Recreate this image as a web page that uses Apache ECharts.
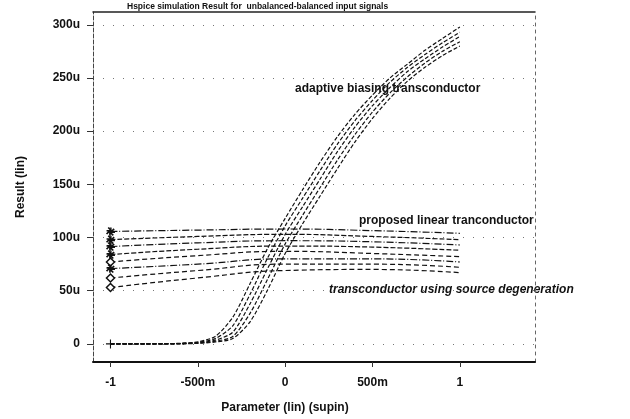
<!DOCTYPE html>
<html>
<head>
<meta charset="utf-8">
<script src="https://cdn.jsdelivr.net/npm/echarts@6/dist/echarts.min.js"></script>
<style>
  html, body { margin: 0; padding: 0; background: #fff; }
  #chart { width: 630px; height: 419px; }
</style>
</head>
<body>
<div id="chart"></div>
<script>
// sweep points of the parameter (supin)
const sweep = [-1, -0.9, -0.8, -0.7, -0.6, -0.5, -0.4, -0.3, -0.2, -0.1, 0,
  0.1, 0.2, 0.3, 0.4, 0.5, 0.6, 0.7, 0.8, 0.9, 1]

// adaptive biasing transconductor, five curves (u)
const adaptive1 = [0, 0, 0.1, 0.2, 0.6, 2, 7, 25, 57, 90, 118, 145, 171, 195, 216, 234, 250, 263, 276, 287, 298]
const adaptive2 = [0, 0, 0, 0.1, 0.4, 1.5, 5, 17, 47, 81, 111, 137, 163, 188, 210, 229, 246, 260, 272, 283, 293]
const adaptive3 = [0, 0, 0, 0.1, 0.3, 1, 3.5, 11, 38, 71, 103, 129, 155, 181, 204, 224, 241, 256, 268, 279, 289]
const adaptive4 = [0, 0, 0, 0, 0.2, 0.7, 2.5, 7, 29, 61, 94, 121, 147, 173, 197, 218, 236, 251, 264, 275, 284]
const adaptive5 = [0, 0, 0, 0, 0.1, 0.5, 1.8, 5, 21, 51, 85, 113, 139, 165, 190, 212, 231, 247, 260, 271, 280]

// proposed / source degeneration curves, sampled at these points
const flatX = [-1, -0.5, 0, 0.5, 1]
const flat1 = [105.7, 107, 108, 106.5, 104]
const flat2 = [98, 101, 103, 101, 98]
const flat3 = [91.5, 95, 97, 96, 93]
const flat4 = [84, 89, 92, 91, 88]
const flat5 = [77, 83, 87, 85, 82]
const flat6 = [70.8, 75, 80, 80, 77]
const flat7 = [62, 69, 75, 75, 72]
const flat8 = [53, 62, 69, 70, 67]

const xTicks = [-1, -0.5, 0, 0.5, 1]
const yTicks = [0, 50, 100, 150, 200, 250, 300]

const asterisk = 'path://M-1,-5h2v3.3l2.3,-2.3 1.4,1.4 -2.3,2.3H5v2H1.4l2.3,2.3 -1.4,1.4 -2.3,-2.3V5h-2V1.4l-2.3,2.3 -1.4,-1.4 2.3,-2.3H-5v-2h3.6l-2.3,-2.3 1.4,-1.4 2.3,2.3z'
const plus = 'path://M-0.6,-5h1.2v4.4H5v1.2H0.6V5h-1.2V0.6H-5v-1.2h4.4z'

const chart = echarts.init(document.getElementById('chart'))

const adaptiveSeries = [adaptive1, adaptive2, adaptive3, adaptive4, adaptive5].map((arr, i) => ({
  type: 'line',
  data: arr.map((v, j) => {
    if (i === 4 && j === 0) {
      return { value: [sweep[j], v], symbol: plus, symbolSize: 9 }
    }
    return [sweep[j], v]
  }),
  symbol: 'none',
  smooth: 0.25,
  lineStyle: { color: '#111', width: 1.2, type: [4, 2] },
  itemStyle: { color: '#111' },
  z: 3
}))

const flatMarks = ['ast', 'ast', 'ast', 'ast', 'dia', 'ast', 'dia', 'dia']
const flatDash = [[7, 2, 1, 2], [5, 2], [7, 2, 1, 2], [5, 2], [5, 3], [7, 2, 1, 2], [5, 3], [5, 3]]

const flatSeries = [flat1, flat2, flat3, flat4, flat5, flat6, flat7, flat8].map((arr, i) => ({
  type: 'line',
  data: arr.map((v, j) => {
    if (j === 0) {
      return flatMarks[i] === 'ast'
        ? { value: [flatX[j], v], symbol: asterisk, symbolSize: 9, itemStyle: { color: '#111' } }
        : { value: [flatX[j], v], symbol: 'diamond', symbolSize: 8, itemStyle: { color: '#fff', borderColor: '#111', borderWidth: 1.5 } }
    }
    return [flatX[j], v]
  }),
  symbol: 'none',
  smooth: true,
  lineStyle: { color: '#111', width: 1.2, type: flatDash[i] },
  z: 2
}))

const option = {
  backgroundColor: '#fff',
  animation: false,

  title: {
    text: 'Hspice simulation Result for  unbalanced-balanced input signals',
    left: 122,
    top: -3,
    textStyle: { fontSize: 8.5, fontWeight: 'bold', color: '#111', fontFamily: 'Liberation Sans' }
  },

  grid: { left: 93, right: 95, top: 12, bottom: 57 },

  xAxis: [
    {
      type: 'value',
      min: -1.1,
      max: 1.43,
      name: 'Parameter (lin) (supin)',
      nameLocation: 'middle',
      nameGap: 40,
      nameTextStyle: { fontSize: 12, fontWeight: 'bold', color: '#111', fontFamily: 'Liberation Sans', padding: [0, 0, 0, -58] },
      axisLine: { onZero: false, lineStyle: { color: '#111', width: 2 } },
      axisTick: { show: true, customValues: xTicks, length: 5, lineStyle: { color: '#333' } },
      axisLabel: {
        customValues: xTicks,
        margin: 15,
        fontSize: 12,
        fontWeight: 'bold',
        color: '#111',
        fontFamily: 'Liberation Sans',
        formatter: v => v === 0 ? '0' : (Math.abs(v) < 1 ? Math.round(v * 1000) + 'm' : String(v))
      },
      splitLine: { show: false }
    },
    {
      type: 'value',
      position: 'top',
      min: -1.1,
      max: 1.43,
      axisLine: { onZero: false, lineStyle: { color: '#222', width: 1.5 } },
      axisTick: { show: false },
      axisLabel: { show: false },
      splitLine: { show: false }
    }
  ],

  yAxis: [
    {
      type: 'value',
      min: -17,
      max: 312,
      name: 'Result (lin)',
      nameLocation: 'middle',
      nameGap: 66,
      nameRotate: 90,
      nameTextStyle: { fontSize: 12, fontWeight: 'bold', color: '#111', fontFamily: 'Liberation Sans' },
      axisLine: { onZero: false, lineStyle: { color: '#444', width: 1, type: [4, 2] } },
      axisTick: { show: true, customValues: yTicks, length: 6, lineStyle: { color: '#333' } },
      axisLabel: {
        customValues: yTicks,
        margin: 13,
        fontSize: 12,
        fontWeight: 'bold',
        color: '#111',
        fontFamily: 'Liberation Sans',
        formatter: v => v === 0 ? '0' : v + 'u'
      },
      splitLine: { show: true, lineStyle: { color: '#777', width: 1, type: [1, 9] } }
    },
    {
      type: 'value',
      position: 'right',
      min: -17,
      max: 312,
      axisLine: { show: true, onZero: false, lineStyle: { color: '#666', width: 1, type: [3, 4] } },
      axisTick: { show: false },
      axisLabel: { show: false },
      splitLine: { show: false }
    }
  ],

  graphic: [
    {
      type: 'text',
      left: 295,
      top: 83,
      style: { text: 'adaptive biasing transconductor', font: 'bold 12px "Liberation Sans"', fill: '#111' }
    },
    {
      type: 'text',
      left: 359,
      top: 215,
      style: { text: 'proposed linear tranconductor', font: 'bold 12px "Liberation Sans"', fill: '#111' }
    },
    {
      type: 'text',
      left: 329,
      top: 284,
      style: { text: 'transconductor using source degeneration', font: 'italic bold 12px "Liberation Sans"', fill: '#111' }
    }
  ],

  series: [...adaptiveSeries, ...flatSeries]
}

chart.setOption(option)
</script>
</body>
</html>
